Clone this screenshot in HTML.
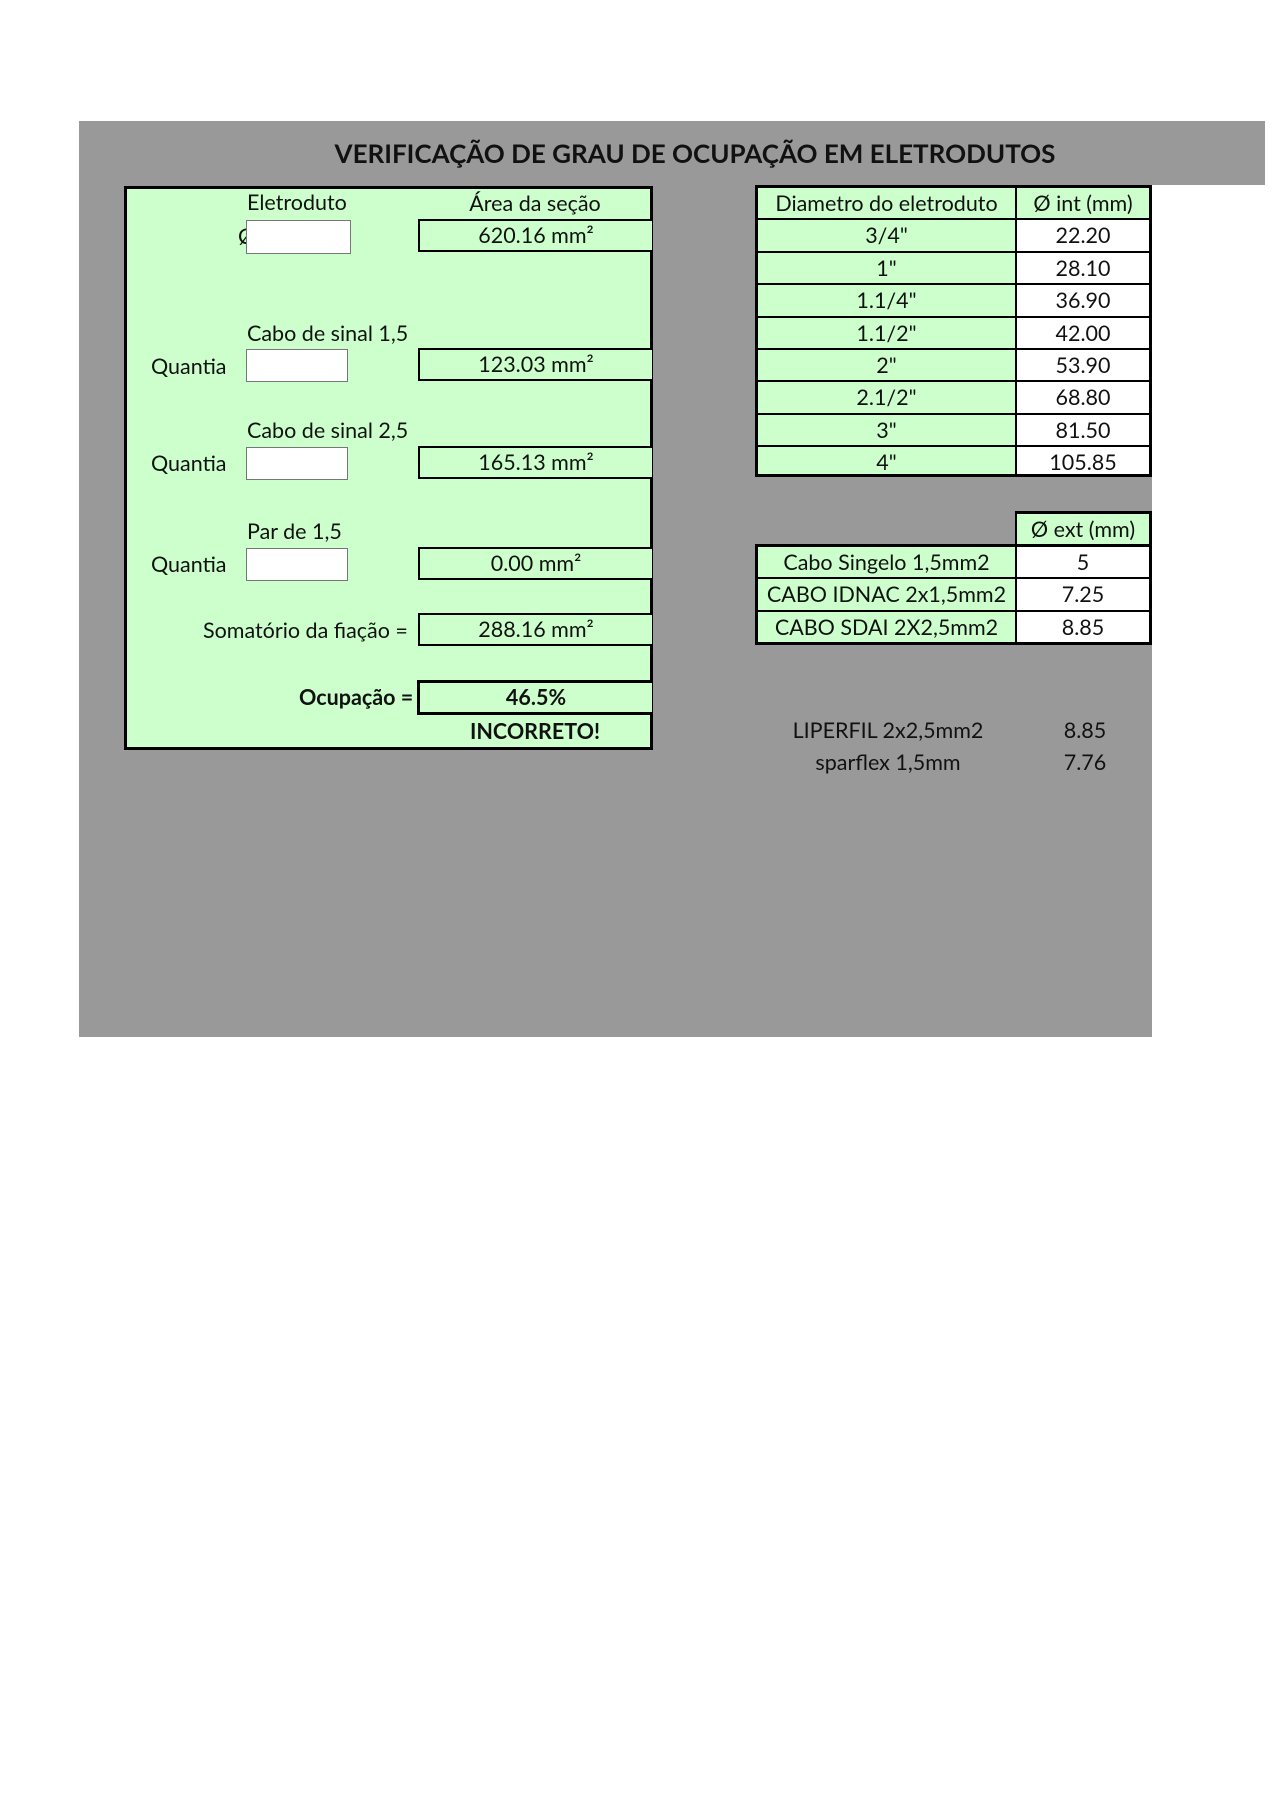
<!DOCTYPE html>
<html><head><meta charset="utf-8"><style>
body{margin:0;width:1280px;height:1811px;background:#fff;position:relative;font-family:"Lato","Liberation Sans",sans-serif;color:#111;overflow:hidden}
div{position:absolute;box-sizing:border-box}
.t{font-size:21.5px;line-height:24px;white-space:nowrap}
.c{text-align:center}
.g{background:#ccffcc}
.w{background:#fff}
.a{left:758px;width:257px;height:30.4px;padding-top:3px}
.b{left:1017px;width:132px;height:30.4px;padding-top:3px}
</style></head><body>
<div style="left:79px;top:121px;width:1186px;height:64px;background:#999"></div>
<div style="left:79px;top:184px;width:1073px;height:853px;background:#999"></div>
<div class="t c" style="left:79px;top:139px;width:1232px;font-size:26px;line-height:28px;font-weight:bold">VERIFICAÇÃO DE GRAU DE OCUPAÇÃO EM ELETRODUTOS</div>

<div class="g" style="left:124px;top:186px;width:529px;height:564px;border:3px solid #000"></div>
<div class="t" style="left:247px;top:190px">Eletroduto</div>
<div class="t c" style="left:418px;top:191px;width:234px">Área da seção</div>
<div class="t" style="left:238px;top:224px">Ø</div>
<div class="w" style="left:246px;top:220px;width:105px;height:34px;border:1px solid #777"></div>
<div class="g t c" style="left:418px;top:219px;width:234px;height:33px;border:2px solid #000;border-right:none;padding-top:2px">620.16 mm²</div>

<div class="t" style="left:247px;top:321px">Cabo de sinal 1,5</div>
<div class="t" style="left:151px;top:354px">Quantia</div>
<div class="w" style="left:246px;top:349px;width:102px;height:33px;border:1px solid #777"></div>
<div class="g t c" style="left:418px;top:348px;width:234px;height:33px;border:2px solid #000;border-right:none;padding-top:2px">123.03 mm²</div>

<div class="t" style="left:247px;top:418px">Cabo de sinal 2,5</div>
<div class="t" style="left:151px;top:451px">Quantia</div>
<div class="w" style="left:246px;top:447px;width:102px;height:33px;border:1px solid #777"></div>
<div class="g t c" style="left:418px;top:446px;width:234px;height:33px;border:2px solid #000;border-right:none;padding-top:2px">165.13 mm²</div>

<div class="t" style="left:247px;top:519px">Par de 1,5</div>
<div class="t" style="left:151px;top:552px">Quantia</div>
<div class="w" style="left:246px;top:548px;width:102px;height:33px;border:1px solid #777"></div>
<div class="g t c" style="left:418px;top:547px;width:234px;height:33px;border:2px solid #000;border-right:none;padding-top:2px">0.00 mm²</div>

<div class="t" style="left:203px;top:618px">Somatório da fiação =</div>
<div class="g t c" style="left:418px;top:613px;width:234px;height:33px;border:2px solid #000;border-right:none;padding-top:2px">288.16 mm²</div>

<div class="t" style="left:299px;top:685px;font-weight:bold">Ocupação =</div>
<div class="g t c" style="left:417px;top:680px;width:235px;height:35px;border:3px solid #000;border-right:none;font-weight:bold;padding-top:2px">46.5%</div>
<div class="t c" style="left:418px;top:719px;width:234px;font-weight:bold">INCORRETO!</div>

<div style="left:755px;top:185px;width:397px;height:292px;background:#000"></div>
<div class="g t c a" style="top:188px">Diametro do eletroduto</div><div class="g t c b" style="top:188px">Ø int (mm)</div>
<div class="g t c a" style="top:220.4px">3/4"</div><div class="w t c b" style="top:220.4px">22.20</div>
<div class="g t c a" style="top:252.8px">1"</div><div class="w t c b" style="top:252.8px">28.10</div>
<div class="g t c a" style="top:285.2px">1.1/4"</div><div class="w t c b" style="top:285.2px">36.90</div>
<div class="g t c a" style="top:317.6px">1.1/2"</div><div class="w t c b" style="top:317.6px">42.00</div>
<div class="g t c a" style="top:350px">2"</div><div class="w t c b" style="top:350px">53.90</div>
<div class="g t c a" style="top:382.4px">2.1/2"</div><div class="w t c b" style="top:382.4px">68.80</div>
<div class="g t c a" style="top:414.8px">3"</div><div class="w t c b" style="top:414.8px">81.50</div>
<div class="g t c a" style="top:447.2px;height:26.8px">4"</div><div class="w t c b" style="top:447.2px;height:26.8px">105.85</div>

<div style="left:1015px;top:511px;width:137px;height:36px;background:#000"></div>
<div class="g t c b" style="top:514px;height:31px">Ø ext (mm)</div>
<div style="left:755px;top:544px;width:397px;height:101px;background:#000"></div>
<div class="g t c a" style="top:547px">Cabo Singelo 1,5mm2</div><div class="w t c b" style="top:547px">5</div>
<div class="g t c a" style="top:579.4px">CABO IDNAC 2x1,5mm2</div><div class="w t c b" style="top:579.4px">7.25</div>
<div class="g t c a" style="top:611.8px;height:30.2px">CABO SDAI 2X2,5mm2</div><div class="w t c b" style="top:611.8px;height:30.2px">8.85</div>

<div class="t c" style="left:780px;top:718px;width:216px">LIPERFIL 2x2,5mm2</div>
<div class="t c" style="left:1030px;top:718px;width:110px">8.85</div>
<div class="t c" style="left:780px;top:750px;width:216px">sparflex 1,5mm</div>
<div class="t c" style="left:1030px;top:750px;width:110px">7.76</div>
</body></html>
